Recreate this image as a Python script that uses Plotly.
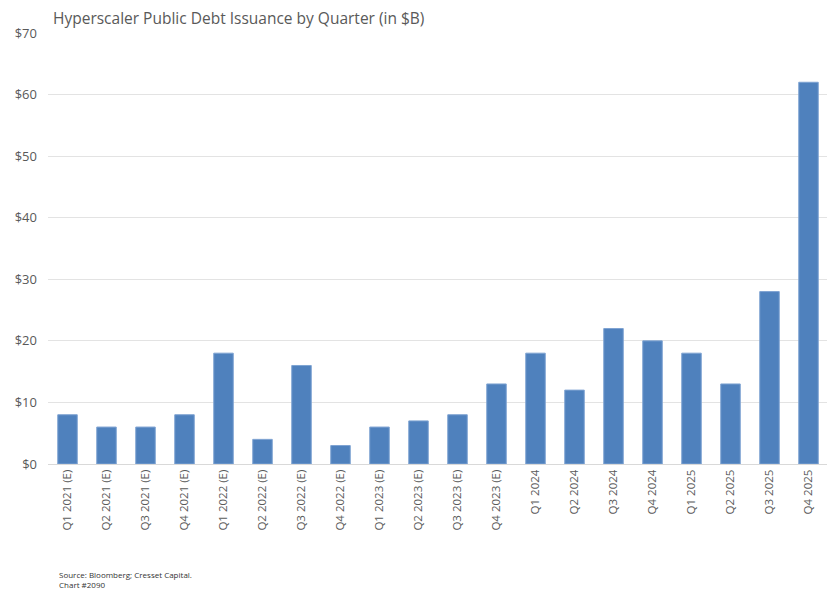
import plotly.graph_objects as go

# --- Data ---
quarters = [
    "Q1 2021 (E)", "Q2 2021 (E)", "Q3 2021 (E)", "Q4 2021 (E)",
    "Q1 2022 (E)", "Q2 2022 (E)", "Q3 2022 (E)", "Q4 2022 (E)",
    "Q1 2023 (E)", "Q2 2023 (E)", "Q3 2023 (E)", "Q4 2023 (E)",
    "Q1 2024", "Q2 2024", "Q3 2024", "Q4 2024",
    "Q1 2025", "Q2 2025", "Q3 2025", "Q4 2025",
]
issuance = [8, 6, 6, 8, 18, 4, 16, 3, 6, 7, 8, 13,
            18, 12, 22, 20, 18, 13, 28, 62]
y_ticks = [0, 10, 20, 30, 40, 50, 60, 70]
y_tick_labels = ["$0", "$10", "$20", "$30", "$40", "$50", "$60", "$70"]

# page body has an 8px margin, so the figure is drawn 8px in from the corner
OFF = 8
W, H = 835 - OFF, 606 - OFF
grey = "#595959"
font_main = "Open Sans, Lato, sans-serif"

# --- Bars ---
trace = go.Bar(
    x=quarters,
    y=issuance,
    marker=dict(color="#4f81bd", line=dict(color="#7ea3d2", width=1)),
    showlegend=False,
)

fig = go.Figure(data=[trace])

fig.update_layout(
    width=W,
    height=H,
    margin=dict(l=41 - OFF, r=7, t=33 - OFF, b=142),
    paper_bgcolor="white",
    plot_bgcolor="white",
    bargap=0.5,
    font=dict(family=font_main, color=grey, size=13),
    title=dict(
        text="Hyperscaler Public Debt Issuance by Quarter (in $B)",
        x=(53 - OFF) / W, xanchor="left", xref="container",
        y=1 - 5 / H, yanchor="top", yref="container",
        pad=dict(t=0, b=0, l=0, r=0),
        font=dict(family=font_main, size=15.5, color=grey),
    ),
    xaxis=dict(
        tickangle=-90,
        showgrid=False,
        showline=True,
        linecolor="#d9d9d9",
        linewidth=1,
        ticks="",
        tickfont=dict(size=11.5, color=grey),
    ),
    yaxis=dict(
        range=[0, 70],
        tickvals=y_ticks,
        ticktext=y_tick_labels,
        showgrid=True,
        gridcolor="#e3e3e3",
        gridwidth=1,
        zeroline=False,
        ticks="",
        ticklabelstandoff=10,
        tickfont=dict(size=13, color=grey),
    ),
)

# --- Source note ---
plot_w = 828 - 41
plot_h = 464 - 33
fig.add_annotation(
    text="Source: Bloomberg; Cresset Capital.<br>Chart #2090",
    xref="paper", yref="paper",
    x=(50 - 41) / plot_w, y=-(573 - 464 - 6) / plot_h,
    xanchor="left", yanchor="top", align="left",
    showarrow=False,
    font=dict(family="Open Sans, sans-serif", size=8, color="#333333"),
)

fig.write_html("out.html")
